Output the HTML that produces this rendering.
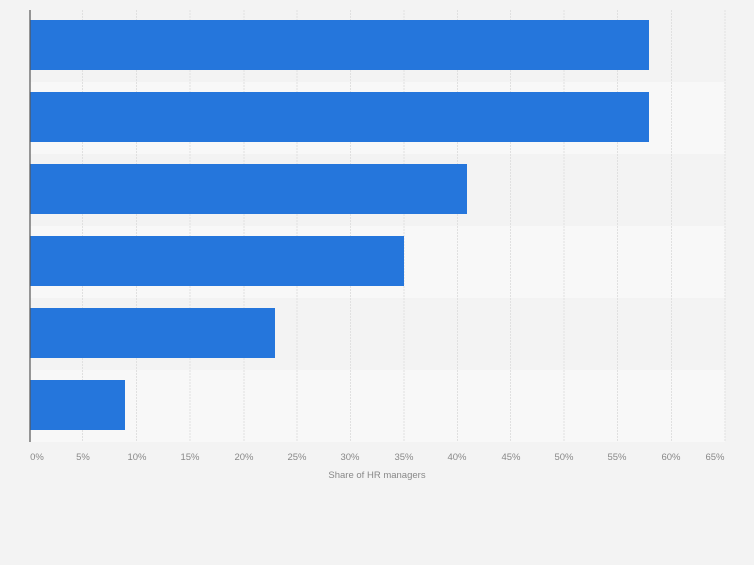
<!DOCTYPE html>
<html><head><style>body{margin:0;background:#f3f3f3;font-family:"Liberation Sans",sans-serif}</style></head>
<body>
<svg width="754" height="560" xmlns="http://www.w3.org/2000/svg">
<rect width="754" height="560" fill="#f3f3f3"/>
<rect x="30" y="10" width="695" height="72" fill="#f3f3f3"/>
<rect x="30" y="82" width="695" height="72" fill="#f8f8f8"/>
<rect x="30" y="154" width="695" height="72" fill="#f3f3f3"/>
<rect x="30" y="226" width="695" height="72" fill="#f8f8f8"/>
<rect x="30" y="298" width="695" height="72" fill="#f3f3f3"/>
<rect x="30" y="370" width="695" height="72" fill="#f8f8f8"/>
<g stroke="#e0e0e0" stroke-dasharray="2,1">
<line x1="82.5" y1="10" x2="82.5" y2="442"/><line x1="136.5" y1="10" x2="136.5" y2="442"/><line x1="190" y1="10" x2="190" y2="442"/><line x1="244" y1="10" x2="244" y2="442"/><line x1="297" y1="10" x2="297" y2="442"/><line x1="350.5" y1="10" x2="350.5" y2="442"/><line x1="404" y1="10" x2="404" y2="442"/><line x1="457.5" y1="10" x2="457.5" y2="442"/><line x1="510.5" y1="10" x2="510.5" y2="442"/><line x1="564" y1="10" x2="564" y2="442"/><line x1="617.5" y1="10" x2="617.5" y2="442"/><line x1="671.5" y1="10" x2="671.5" y2="442"/><line x1="725" y1="10" x2="725" y2="442"/>
</g>
<g fill="#2576dc">
<rect x="30" y="20" width="619" height="50"/>
<rect x="30" y="92" width="619" height="50"/>
<rect x="30" y="164" width="437" height="50"/>
<rect x="30" y="236" width="374" height="50"/>
<rect x="30" y="308" width="245" height="50"/>
<rect x="30" y="380" width="95" height="50"/>
</g>
<line x1="30" y1="10" x2="30" y2="442" stroke="#555" stroke-width="1.2"/>
<g font-size="9.5" fill="#888" text-anchor="middle">
<text x="37" y="460">0%</text><text x="83" y="460">5%</text><text x="137" y="460">10%</text><text x="190" y="460">15%</text><text x="244" y="460">20%</text><text x="297" y="460">25%</text><text x="350" y="460">30%</text><text x="404" y="460">35%</text><text x="457" y="460">40%</text><text x="511" y="460">45%</text><text x="564" y="460">50%</text><text x="617" y="460">55%</text><text x="671" y="460">60%</text><text x="715" y="460">65%</text>
<text x="377" y="478" font-size="9.5">Share of HR managers</text>
</g>
</svg>
</body></html>
